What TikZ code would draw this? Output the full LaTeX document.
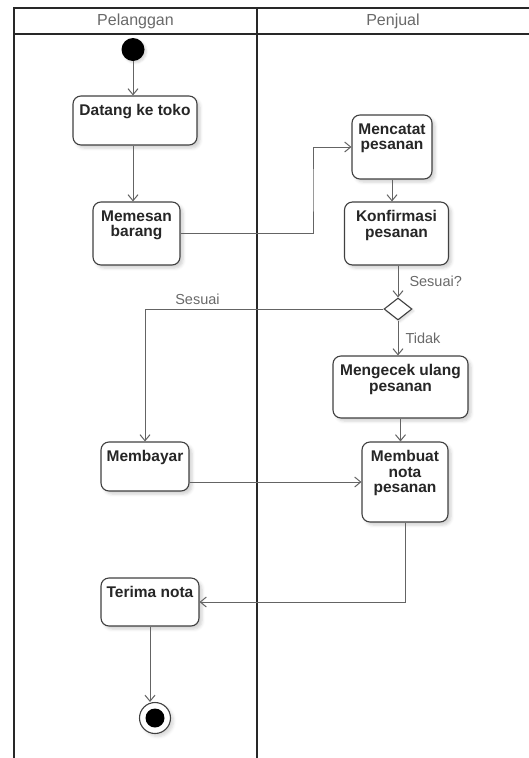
\documentclass[tikz,border=0pt]{standalone}
\usepackage{fontspec}
\setmainfont{Liberation Sans}
\usepackage{tikz}
\usetikzlibrary{shapes,shapes.geometric,arrows,arrows.meta,positioning,calc,shadows.blur}
\definecolor{lanegray}{RGB}{40,40,40}
\definecolor{flowgray}{RGB}{100,100,100}
\definecolor{textgray}{RGB}{105,105,105}
\tikzset{
    lane/.style={draw=lanegray, line width=1.6pt},
    actbox/.style={draw=black!75, line width=1.1pt, rounded corners=8pt, fill=white,
        blur shadow={shadow xshift=3pt, shadow yshift=-3pt, shadow blur radius=3pt, shadow opacity=18},
        label={[acttxt]north:#1}},
    acttxt/.style={anchor=north, yshift=-8pt, inner sep=1pt, align=center,
        font=\fontsize{15.5}{15.5}\selectfont\bfseries, text=black!85},
    flow/.style={draw=flowgray, line width=1pt, -{Straight Barb[length=6pt, width=10pt]}},
    lbl/.style={font=\fontsize{14.5}{15}\selectfont, text=textgray, inner sep=1pt},
    lanetitle/.style={font=\fontsize{16}{16}\selectfont, text=textgray, inner sep=1pt},
    decide/.style={diamond, draw=black!75, line width=1.1pt, fill=white, inner sep=0pt,
        minimum width=28pt, minimum height=22pt, aspect=1.3,
        blur shadow={shadow xshift=2pt, shadow yshift=-2pt, shadow blur radius=2pt, shadow opacity=15}}
}

\begin{document}
\begin{tikzpicture}[x=1pt, y=-1pt]
    \useasboundingbox (0,0) rectangle (529,758);
    \draw[lane] (14,758) -- (14,8) -- (529,8);
    \draw[lane] (14,34) -- (529,34);
    \draw[lane] (257,8) -- (257,758);
    \node[lanetitle] (pelanggan) at (135.5,21) {Pelanggan};
    \node[lanetitle] (penjual) at (393,21) {Penjual};

    \node[circle, fill=black, inner sep=0pt, minimum size=23pt,
        blur shadow={shadow xshift=2pt, shadow yshift=-2pt, shadow blur radius=2pt, shadow opacity=15}] (start) at (133,49.5) {};
    \node[actbox={Datang ke toko}, minimum width=124pt, minimum height=49pt] (datang) at (135,120.5) {};
    \node[actbox={Memesan\\barang}, minimum width=87pt, minimum height=63pt] (memesan) at (136.5,233.5) {};
    \node[actbox={Mencatat\\pesanan}, minimum width=80pt, minimum height=64pt] (mencatat) at (392,147) {};
    \node[actbox={Konfirmasi\\pesanan}, minimum width=104pt, minimum height=63pt] (konfirmasi) at (396.5,233.5) {};
    \node[decide] (cek) at (398,309) {};
    \node[actbox={Mengecek ulang\\pesanan}, minimum width=135pt, minimum height=62pt] (mengecek) at (400.5,387) {};
    \node[actbox={Membayar}, minimum width=88pt, minimum height=49pt] (membayar) at (145,466.5) {};
    \node[actbox={Membuat\\nota\\pesanan}, minimum width=86pt, minimum height=80pt] (membuat) at (405,482) {};
    \node[actbox={Terima nota}, minimum width=98pt, minimum height=48pt] (terima) at (150,602) {};
    \node[circle, draw=black!75, line width=1.1pt, fill=white, inner sep=0pt, minimum size=31pt,
        blur shadow={shadow xshift=3pt, shadow yshift=-3pt, shadow blur radius=3pt, shadow opacity=15}] (akhir) at (155,718) {};
    \node[circle, fill=black, inner sep=0pt, minimum size=19pt] (akhirdot) at (akhir) {};

    \coordinate (belok) at (313,190);

    \draw[flow] (start) -- (start |- datang.north);
    \draw[flow] (datang.south -| start) -- (start |- memesan.north);
    \draw[flow] (memesan.east) -| (belok) |- (mencatat.west);
    \draw[flow] (mencatat) -- (mencatat |- konfirmasi.north);
    \draw[flow] (cek |- konfirmasi.south) -- node[midway, right=10pt, lbl] (sesuaiq) {Sesuai?} (cek.north);
    \draw[flow] (cek.west) -| node[pos=0.39, above=3pt, lbl] (sesuai) {Sesuai} (membayar.north);
    \draw[flow] (cek.south) -- node[midway, right=6pt, lbl] (tidak) {Tidak} (cek |- mengecek.north);
    \draw[flow] (mengecek.south) -- (mengecek.south |- membuat.north);
    \draw[flow] (membayar.east |- membuat.west) -- (membuat.west);
    \draw[flow] (membuat.south) |- (terima.east);
    \draw[flow] (terima.south) -- (terima.south |- akhir.north);
\end{tikzpicture}
\end{document}
